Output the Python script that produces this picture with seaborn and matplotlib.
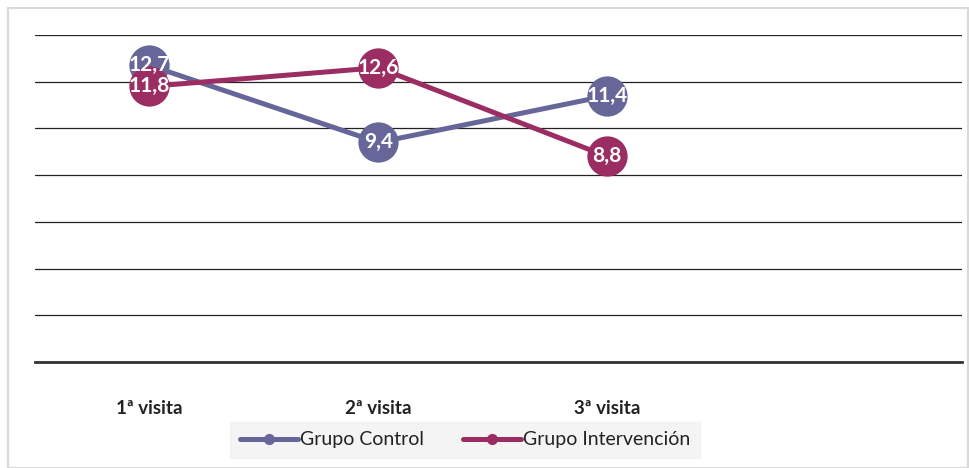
import numpy as np
import pandas as pd
import seaborn as sns
import matplotlib.pyplot as plt
from matplotlib.lines import Line2D
from matplotlib.patches import Rectangle

visitas = ['1ª visita', '2ª visita', '3ª visita', '']
grupos = ['Grupo Control', 'Grupo Intervención']
control = [12.7, 9.4, 11.4]
intervencion = [11.8, 12.6, 8.8]

colores = ['#676699', '#9b2d62']

df = pd.DataFrame({
    'visita': list(range(3)) * 2,
    'valor': control + intervencion,
    'grupo': [grupos[0]] * 3 + [grupos[1]] * 3,
})

sns.set_style('white')
plt.rcParams['font.family'] = ['Lato', 'DejaVu Sans']

fig = plt.figure(figsize=(9.7, 4.68), dpi=100)
ax = fig.add_axes([35 / 970, 1 - 362 / 468, 927 / 970, 327 / 468])

sns.lineplot(data=df, x='visita', y='valor', hue='grupo', palette=colores,
             marker='o', markersize=29, linewidth=3.6, markeredgewidth=0,
             legend=False, ax=ax)

# etiquetas de datos
for serie in [control, intervencion]:
    for i, v in enumerate(serie):
        ax.text(i, v, f'{v:.1f}'.replace('.', ','), ha='center', va='center',
                color='white', fontsize=15, fontweight='bold', zorder=5)

ax.set_xlim(-0.5, 3.55)
ax.set_ylim(0, 14)
ax.set_yticks(np.arange(0, 15, 2))
ax.yaxis.grid(True, color='#222222', linewidth=0.9)
ax.set_axisbelow(True)
ax.tick_params(axis='y', left=False, labelleft=False)
ax.set_xticks(range(4))
ax.set_xticklabels(visitas, fontsize=13.5, fontweight='bold', color='#222222')
ax.tick_params(axis='x', bottom=False, pad=24)
ax.set_xlabel(None)
ax.set_ylabel(None)
for s in ['top', 'right', 'left']:
    ax.spines[s].set_visible(False)
ax.spines['bottom'].set_color('#333333')
ax.spines['bottom'].set_linewidth(2)

handles = [Line2D([0], [0], color=c, linewidth=3.6, marker='o', markersize=7)
           for c in colores]
leg = fig.legend(handles, grupos, loc='center', bbox_to_anchor=(465 / 970, 1 - 440 / 468),
                 ncol=2, frameon=True, fontsize=14, handlelength=3.0,
                 handletextpad=0.1, columnspacing=2.0, borderpad=0.5,
                 borderaxespad=0, fancybox=False)
leg.get_frame().set_facecolor('#f2f2f2')
leg.get_frame().set_edgecolor('#f2f2f2')
for t in leg.get_texts():
    t.set_color('#222222')

fig.patches.append(Rectangle((8 / 970, 0), 960 / 970, 1 - 8 / 468, transform=fig.transFigure,
                             fill=False, edgecolor='#d9d9d9', linewidth=1.5))

plt.savefig('out.png', dpi=100)
plt.close()
